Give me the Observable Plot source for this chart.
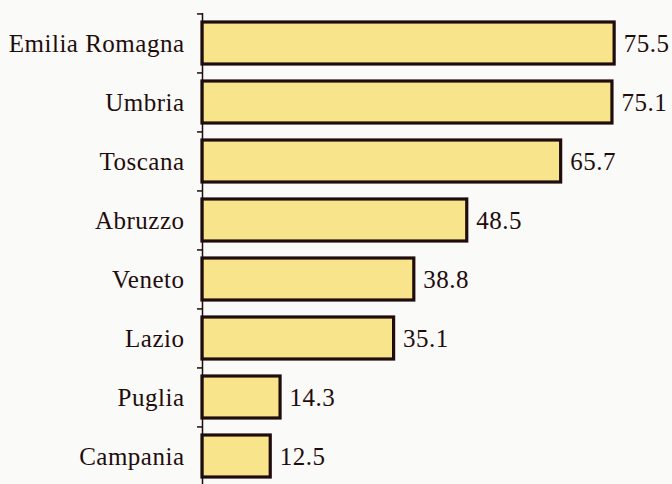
<!DOCTYPE html>
<html>
<head>
<meta charset="utf-8">
<script src="https://cdn.jsdelivr.net/npm/d3@7"></script>
<script src="https://cdn.jsdelivr.net/npm/@observablehq/plot@0.6"></script>
<style>
  html, body { margin: 0; padding: 0; background: #fafaf8; }
</style>
</head>
<body>
<div id="chart"></div>
<script>
const regions = ["Emilia Romagna", "Umbria", "Toscana", "Abruzzo", "Veneto", "Lazio", "Puglia", "Campania"];
const values = [75.5, 75.1, 65.7, 48.5, 38.8, 35.1, 14.3, 12.5];

const data = regions.map((r, i) => ({region: r, value: values[i]}));

const yTop = 13, yBottom = 486;
const step = (yBottom - yTop) / regions.length;
const dark = "#1f0d0d";
const font = "'Liberation Serif', 'Times New Roman', serif";

const chart = Plot.plot({
  width: 672,
  height: 484,
  marginLeft: 202,
  marginRight: 6,
  marginTop: yTop,
  marginBottom: 0,
  style: {background: "#fafaf8", fontFamily: font, color: dark, letterSpacing: "0.5px"},
  x: {domain: [0, 85], axis: null},
  y: {domain: regions, range: [yTop, yBottom], paddingInner: 0.29, paddingOuter: 0.145, label: null},
  marks: [
    Plot.barX(data, {x: "value", y: "region", fill: "#f8e48a", stroke: dark, strokeWidth: 3.2}),
    Plot.ruleX([0], {stroke: dark, strokeWidth: 1.5}),
    Plot.axisY({tickSize: 5, text: null, dy: -step / 2, stroke: dark, strokeWidth: 1.5}),
    Plot.axisY({tickSize: 0, tickPadding: 18, fontSize: 25, fill: dark, label: null}),
    Plot.text(data, {x: "value", y: "region", text: d => d.value.toFixed(1), dx: 9, textAnchor: "start", fontSize: 25, fill: dark})
  ]
});
document.getElementById("chart").appendChild(chart);
</script>
</body>
</html>
